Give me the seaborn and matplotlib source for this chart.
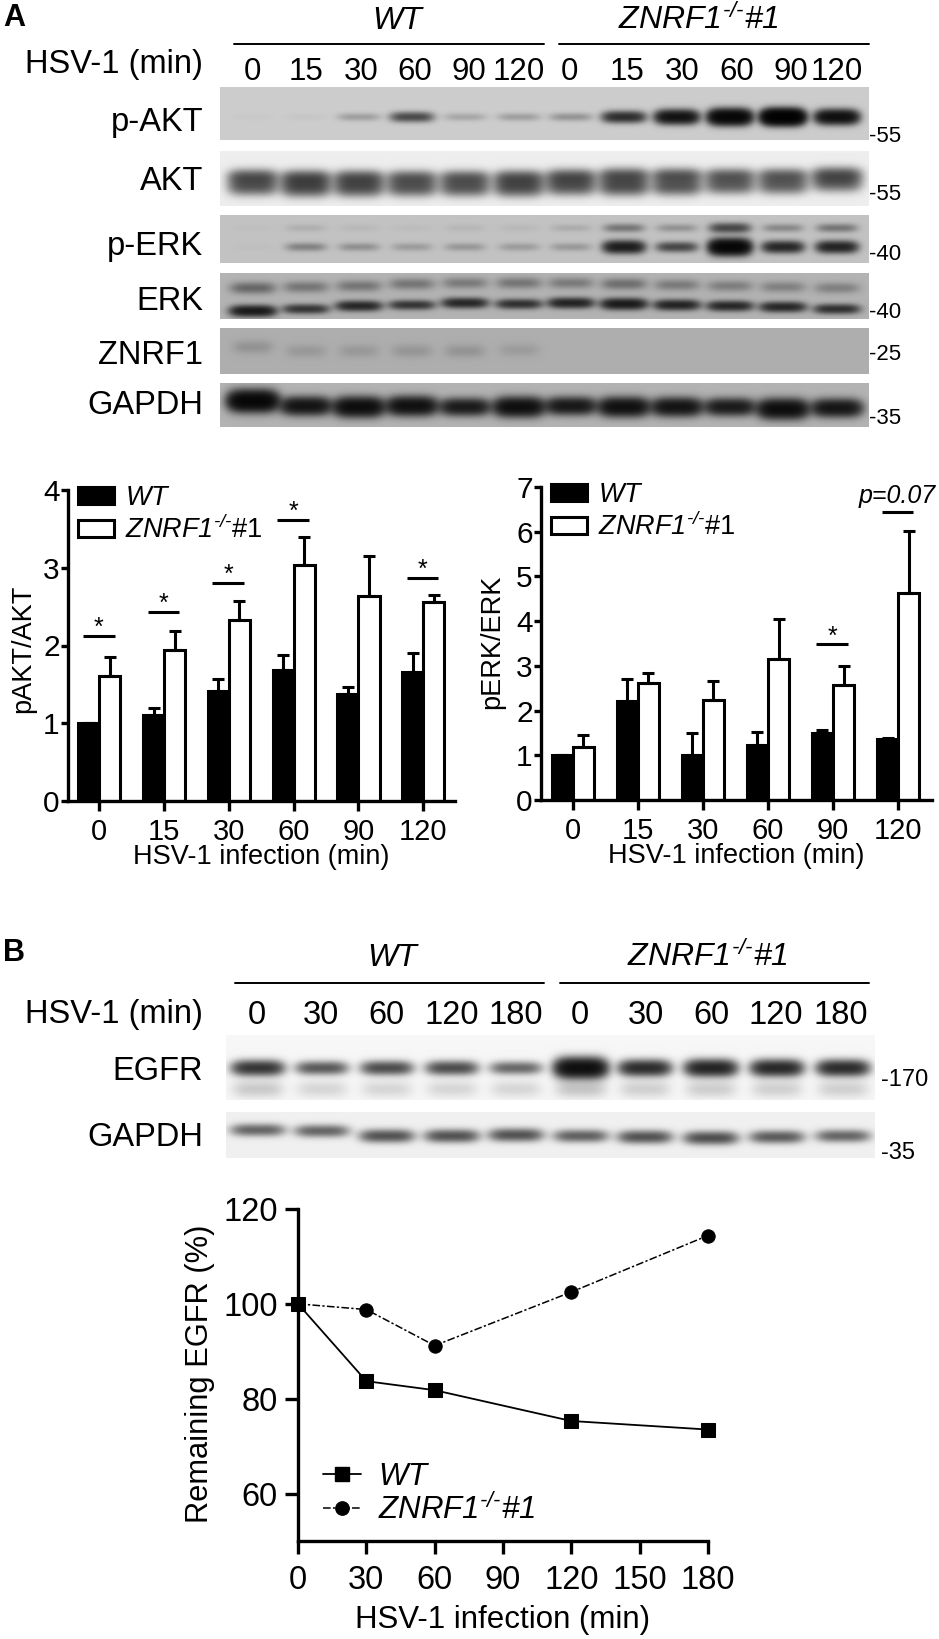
import numpy as np
import pandas as pd
import matplotlib
matplotlib.use("Agg")
import matplotlib.pyplot as plt
from matplotlib.lines import Line2D
from matplotlib.patches import Patch
import seaborn as sns

sns.set_theme(style="white")
plt.rcParams["font.family"] = ["Liberation Sans", "DejaVu Sans"]
plt.rcParams["mathtext.fontset"] = "custom"
plt.rcParams["mathtext.it"] = "Liberation Sans:italic"
plt.rcParams["mathtext.cal"] = "Liberation Sans:italic"
plt.rcParams["mathtext.rm"] = "Liberation Sans:italic"
plt.rcParams["mathtext.default"] = "it"

W, H = 939, 1639
KO_MATH = r"$\mathcal{ZNRF1}^{\text{-/-}}\mathcal{\#1}$"
KO_LEG = r"$\mathcal{ZNRF1}^{\text{-/-}}$#1"

# ---------- quantification data ----------
times_bar = ["0", "15", "30", "60", "90", "120"]
pakt_wt = [1.0, 1.10, 1.42, 1.69, 1.37, 1.66]
pakt_ko = [1.61, 1.94, 2.33, 3.03, 2.64, 2.56]
pakt_wt_top = [1.0, 1.20, 1.57, 1.88, 1.46, 1.90]
pakt_ko_top = [1.85, 2.19, 2.57, 3.39, 3.15, 2.65]
pakt_sig_group = [0, 1, 2, 3, 5]
pakt_sig_y = [2.12, 2.43, 2.81, 3.62, 2.87]

perk_wt = [1.0, 2.22, 1.0, 1.23, 1.50, 1.355]
perk_ko = [1.19, 2.62, 2.23, 3.16, 2.58, 4.63]
perk_wt_top = [1.0, 2.70, 1.50, 1.53, 1.56, 1.39]
perk_ko_top = [1.45, 2.83, 2.66, 4.04, 2.99, 6.01]
perk_sig_group = [4, 5]
perk_sig_y = [3.48, 6.43]

times_line = [0, 30, 60, 120, 180]
egfr_wt = [100, 83.7, 81.8, 75.3, 73.5]
egfr_ko = [100, 98.8, 91.2, 102.5, 114.4]

# ---------- blot band densities, lane by lane ----------
lanes_a = ["0", "15", "30", "60", "90", "120"] * 2
lanes_b = ["0", "30", "60", "120", "180"] * 2
rows_a = ["p-AKT", "AKT", "p-ERK", "ERK", "ZNRF1", "GAPDH"]
mw_a = ["-55", "-55", "-40", "-40", "-25", "-35"]
rows_b = ["EGFR", "GAPDH"]
mw_b = ["-170", "-35"]

d_pakt = [0.02, 0.03, 0.25, 1.0, 0.2, 0.25, 0.32, 1.5, 2.4, 3.4, 4.5, 2.6]
d_akt_hi = [0.95, 1.0, 0.95, 0.85, 0.85, 0.95, 1.0, 1.0, 0.95, 0.85, 0.85, 1.0]
d_akt_lo = [0.9, 1.05, 1.0, 0.9, 0.9, 1.0, 0.9, 1.0, 0.9, 0.8, 0.8, 0.75]
d_perk_up = [0.02, 0.1, 0.05, 0.03, 0.06, 0.05, 0.12, 0.5, 0.28, 1.0, 0.35, 0.5]
d_perk_lo = [0.02, 0.4, 0.3, 0.22, 0.25, 0.22, 0.24, 1.9, 1.0, 3.4, 1.6, 1.7]
d_erk_up = [0.55, 0.42, 0.42, 0.42, 0.38, 0.42, 0.38, 0.48, 0.38, 0.35, 0.33, 0.33]
d_erk_lo = [1.9, 1.2, 1.5, 1.2, 1.5, 1.3, 1.6, 1.9, 1.6, 1.5, 1.5, 1.3]
d_znrf = [0.17, 0.13, 0.13, 0.15, 0.16, 0.11, 0, 0, 0, 0, 0, 0]
d_gapdh_a = [3.2, 2.2, 2.6, 2.4, 1.9, 2.5, 2.0, 2.4, 2.2, 1.9, 2.6, 2.1]
d_egfr = [1.5, 1.0, 1.15, 1.15, 0.85, 2.8, 1.7, 1.9, 1.8, 1.7]
d_egfr_lo = [0.2, 0.14, 0.14, 0.14, 0.14, 0.22, 0.17, 0.18, 0.17, 0.17]
d_gapdh_b = [0.85, 0.85, 1.05, 1.05, 1.05, 0.9, 1.05, 1.1, 0.95, 0.85]

# ---------- layout (reference pixels) ----------
cent_a = [253, 306, 359, 412, 465, 519, 571, 624, 677, 730, 783, 837]
cent_lab_a = [252, 306, 361, 415, 469, 519, 569, 627, 682, 737, 791, 837]
cent_b = [258, 322, 387, 452, 516, 581, 645, 711, 777, 843]
cent_lab_b = [257, 321, 386, 452, 516, 580, 646, 711, 776, 841]
y_pakt = [117] * 12
y_akt_hi = [177, 178, 178, 178, 178, 178, 177, 176, 176, 176, 176, 175]
y_akt_lo = [187, 188, 188, 188, 188, 188, 187, 187, 187, 186, 186, 184]
y_perk_up = [228] * 12
y_perk_lo = [247] * 12
y_erk_up = [288, 287, 286, 284, 283, 283, 283, 284, 285, 286, 287, 288]
y_erk_lo = [311, 309, 306, 305, 303, 304, 303, 304, 305, 306, 307, 309]
y_znrf = [347, 351, 351, 351, 351, 350, 350, 350, 350, 350, 350, 350]
y_gapdh_a = [401, 406, 407, 406, 407, 407, 406, 407, 407, 407, 409, 408]
y_egfr = [1068] * 10
y_egfr_lo = [1089] * 10
y_gapdh_b = [1130, 1131, 1136, 1136, 1135, 1136, 1137, 1138, 1137, 1136]


def axes_px(fig, x0, y0, x1, y1):
    return fig.add_axes([x0 / W, 1 - y1 / H, (x1 - x0) / W, (y1 - y0) / H])


def blot(fig, box, bg, centres, halfwidth, bands):
    x0, y0, x1, y1 = box
    xs = np.arange(x0, x1) + 0.5
    ys = np.arange(y0, y1) + 0.5
    dens = np.zeros((len(ys), len(xs)))
    for strengths, yc_list, sigma in bands:
        for c, s, yc in zip(centres, strengths, yc_list):
            sig = sigma * (0.8 + 0.25 * min(s, 3))
            prof_y = np.exp(-0.5 * ((ys - yc) / sig) ** 2)
            prof_x = np.exp(-(((xs - c) / halfwidth) ** 4))
            dens += s * np.outer(prof_y, prof_x)
    img = bg * np.exp(-dens)
    ax = axes_px(fig, x0, y0, x1, y1)
    sns.heatmap(img, cmap="gray", vmin=0, vmax=1, cbar=False,
                xticklabels=False, yticklabels=False, ax=ax)
    return ax


def ftext(fig, x, y, s, **kw):
    kw.setdefault("va", "center")
    kw.setdefault("color", "black")
    fig.text(x / W, 1 - y / H, s, **kw)


def hline(fig, x0, x1, y, lw=1.4):
    fig.add_artist(Line2D([x0 / W, x1 / W], [1 - y / H, 1 - y / H], color="black", lw=lw))


def bar_panel(fig, box, xlim, ymax, wt, ko, wt_top, ko_top, sig_group, sig_y, sig_txt, ylabel,
              ylab_x, ylab_y, legend_anchor):
    ax = axes_px(fig, *box)
    df = pd.DataFrame({
        "time": times_bar * 2,
        "value": list(wt) + list(ko),
        "geno": ["WT"] * 6 + ["KO"] * 6,
    })
    sns.barplot(data=df, x="time", y="value", hue="geno", order=times_bar, hue_order=["WT", "KO"],
                palette={"WT": "black", "KO": "white"}, width=0.65, gap=0, dodge=True,
                edgecolor="black", linewidth=2.2, saturation=1, errorbar=None, legend=False, ax=ax)
    for cont, vals, tops in zip(ax.containers, (wt, ko), (wt_top, ko_top)):
        xs = [b.get_x() + b.get_width() / 2 for b in cont]
        up = np.array(tops) - np.array(vals)
        ax.errorbar(xs, vals, yerr=[np.zeros(6), up], fmt="none", ecolor="black",
                    elinewidth=2.2, capsize=4.2, capthick=2.2, zorder=1)
    for g, y, t in zip(sig_group, sig_y, sig_txt):
        ax.plot([g - 0.255, g + 0.235], [y, y], color="black", lw=2.2, solid_capstyle="butt")
        if t == "*":
            ax.annotate("*", (g - 0.01, y), xytext=(0, -3), textcoords="offset points",
                        ha="center", va="bottom", fontsize=18, color="black")
        else:
            ax.annotate(t, (g - 0.01, y), xytext=(0, 3), textcoords="offset points",
                        ha="center", va="bottom", fontsize=18, style="italic", color="black")
    ax.set_xlim(*xlim)
    ax.set_ylim(0, ymax)
    ax.set_yticks(range(0, ymax + 1))
    for s in ("top", "right"):
        ax.spines[s].set_visible(False)
    for s in ("left", "bottom"):
        ax.spines[s].set_linewidth(2.4)
        ax.spines[s].set_color("black")
    ax.tick_params(axis="y", length=5, width=2.4, labelsize=21.5, pad=1, left=True, colors="black")
    ax.tick_params(axis="x", length=7, width=2.4, labelsize=21, pad=5, bottom=True, colors="black")
    ax.set_xlabel("HSV-1 infection (min)", fontsize=19.5, color="black", labelpad=-1.5)
    ax.set_ylabel(ylabel, fontsize=19.5, color="black", va="center")
    ax.yaxis.set_label_coords(ylab_x, ylab_y)
    handles = [Patch(facecolor="black", edgecolor="black", lw=2.2),
               Patch(facecolor="white", edgecolor="black", lw=2.2)]
    leg = ax.legend(handles, [r"$WT$", KO_LEG], loc="upper left", bbox_to_anchor=legend_anchor,
                    frameon=False, fontsize=19.5, handlelength=1.33, handleheight=0.58,
                    handletextpad=0.41, labelspacing=0.16, borderpad=0, borderaxespad=0)
    for t in leg.get_texts():
        t.set_color("black")
    return ax


fig = plt.figure(figsize=(W / 100, H / 100), dpi=100, facecolor="white")

# ---------- Panel A blots ----------
ftext(fig, 3, 18, "A", fontsize=22, fontweight="bold")
ftext(fig, 397, 21, "WT", fontsize=23, style="italic", ha="center")
ftext(fig, 698, 20, KO_MATH, fontsize=23, ha="center")
hline(fig, 234, 544, 44)
hline(fig, 559, 869, 44)
ftext(fig, 203, 65, "HSV-1 (min)", fontsize=23.5, ha="right")
for c, t in zip(cent_lab_a, lanes_a):
    ftext(fig, c, 72, t, fontsize=22.5, ha="center")

boxes_a = [(220, 87, 869, 140), (220, 151, 869, 206), (220, 215, 869, 263),
           (220, 273, 869, 319), (220, 328, 869, 374), (220, 383, 869, 427)]
bg_a = [0.80, 0.93, 0.76, 0.70, 0.68, 0.70]
hw_a = [21, 24, 20, 22, 20, 24]
bands_a = [
    [(d_pakt, y_pakt, 3.2)],
    [(d_akt_hi, y_akt_hi, 5.0), (d_akt_lo, y_akt_lo, 5.5)],
    [(d_perk_up, y_perk_up, 3.2), (d_perk_lo, y_perk_lo, 3.2)],
    [(d_erk_up, y_erk_up, 4.2), (d_erk_lo, y_erk_lo, 2.8)],
    [(d_znrf, y_znrf, 5.5)],
    [(d_gapdh_a, y_gapdh_a, 4.2)],
]
row_y_a = [123, 181, 246, 301, 355, 406]
mw_y_a = [137, 195, 255, 312, 355, 419]
for box, bg, hw, bands, name, ry, mw, my in zip(boxes_a, bg_a, hw_a, bands_a, rows_a, row_y_a, mw_a, mw_y_a):
    blot(fig, box, bg, cent_a, hw, bands)
    ftext(fig, 203, ry, name, fontsize=23.5, ha="right")
    ftext(fig, 869, my, mw, fontsize=16, ha="left")

# ---------- Panel A bar charts ----------
bar_panel(fig, (68, 490, 455, 801), (-0.483, 5.49), 4, pakt_wt, pakt_ko, pakt_wt_top, pakt_ko_top,
          pakt_sig_group, pakt_sig_y, ["*"] * 5, "pAKT/AKT", -0.116, 0.49, (0.026, 1.016))
bar_panel(fig, (541, 487, 932, 800), (-0.487, 5.52), 7, perk_wt, perk_ko, perk_wt_top, perk_ko_top,
          perk_sig_group, perk_sig_y, ["*", "p=0.07"], "pERK/ERK", -0.125, 0.505, (0.026, 1.016))

# ---------- Panel B blots ----------
ftext(fig, 3, 953, "B", fontsize=22, fontweight="bold")
ftext(fig, 392, 958, "WT", fontsize=23, style="italic", ha="center")
ftext(fig, 707, 957, KO_MATH, fontsize=23, ha="center")
hline(fig, 235, 544, 983)
hline(fig, 560, 869, 983)
ftext(fig, 203, 1014, "HSV-1 (min)", fontsize=23.5, ha="right")
for c, t in zip(cent_lab_b, lanes_b):
    ftext(fig, c, 1016, t, fontsize=23.5, ha="center")
blot(fig, (226, 1035, 875, 1100), 0.965, cent_b, 25,
     [(d_egfr, y_egfr, 4.2), (d_egfr_lo, y_egfr_lo, 7.0)])
blot(fig, (226, 1112, 875, 1158), 0.94, cent_b, 26, [(d_gapdh_b, y_gapdh_b, 4.0)])
ftext(fig, 203, 1072, rows_b[0], fontsize=23.5, ha="right")
ftext(fig, 203, 1137, rows_b[1], fontsize=23.5, ha="right")
ftext(fig, 881, 1080, mw_b[0], fontsize=17, ha="left")
ftext(fig, 881, 1153, mw_b[1], fontsize=17, ha="left")

# ---------- Panel B line chart ----------
ax = axes_px(fig, 298, 1209, 708, 1541)
dash = (0, (5, 1.5, 1.5, 1.5))
sns.lineplot(x=times_line, y=egfr_ko, marker="o", markersize=9.6, color="black", linewidth=1.1,
             linestyle=dash, markeredgecolor="black", clip_on=False, errorbar=None, ax=ax)
sns.lineplot(x=times_line, y=egfr_wt, marker="s", markersize=9.4, color="black", linewidth=1.3,
             markeredgecolor="black", clip_on=False, errorbar=None, ax=ax)
ax.set_xlim(0, 180)
ax.set_ylim(50, 120)
ax.set_xticks(range(0, 181, 30))
ax.set_yticks([60, 80, 100, 120])
for s in ("top", "right"):
    ax.spines[s].set_visible(False)
for s in ("left", "bottom"):
    ax.spines[s].set_linewidth(2.4)
    ax.spines[s].set_color("black")
ax.tick_params(axis="both", length=9.5, width=2.4, labelsize=23.5, pad=5, left=True, bottom=True, colors="black")
ax.tick_params(axis="x", pad=7.5)
ax.set_xlabel("HSV-1 infection (min)", fontsize=22.5, color="black", labelpad=6.5)
ax.set_ylabel("Remaining EGFR (%)", fontsize=22.2, color="black", va="center")
ax.yaxis.set_label_coords(-0.24, 0.505)
handles = [Line2D([], [], color="black", lw=1.3, marker="s", ms=9.4),
           Line2D([], [], color="black", lw=1.1, ls=dash, marker="o", ms=9.6)]
leg = ax.legend(handles, [r"$WT$", r"$\mathcal{ZNRF1}^{\text{-/-}}\mathcal{\#1}$"], loc="upper left",
                bbox_to_anchor=(0.06, 0.238), frameon=False, fontsize=22.5, handlelength=1.22,
                handletextpad=0.55, labelspacing=0.05, borderpad=0, borderaxespad=0)
for t in leg.get_texts():
    t.set_color("black")

fig.savefig("out.png", dpi=100, facecolor="white")
